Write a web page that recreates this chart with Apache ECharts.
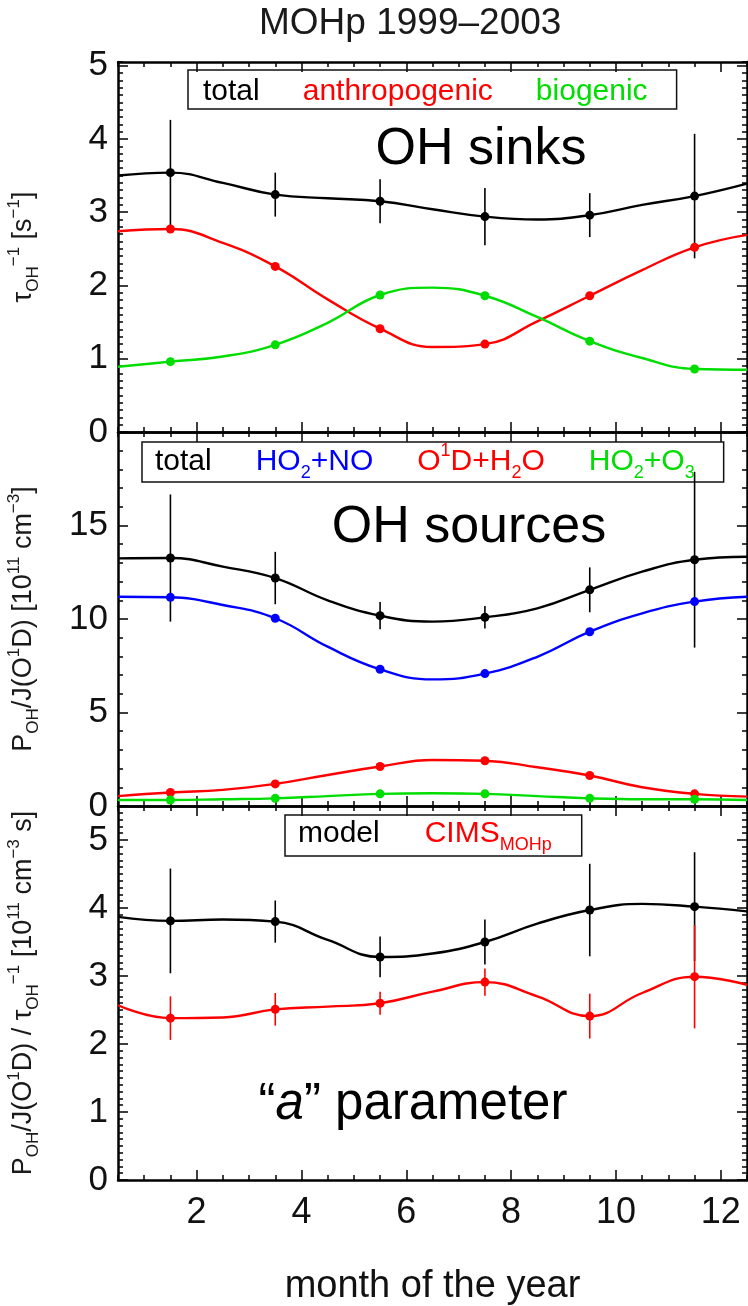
<!DOCTYPE html>
<html>
<head>
<meta charset="utf-8">
<title>MOHp 1999-2003</title>
<script src="https://cdn.jsdelivr.net/npm/echarts@6/dist/echarts.min.js"></script>
<style>
  html, body { margin: 0; padding: 0; background: #fff; }
  #chart { width: 748px; height: 1306px; }
</style>
</head>
<body>
<div id="chart"></div>
<script>
// bimonthly means, plotted at the middle of each two-month bin
var months = [1.5, 3.5, 5.5, 7.5, 9.5, 11.5];
var monthTicks = [2, 4, 6, 8, 10, 12];
var fitMonths = [0.5, 2.5, 4.5, 6.5, 8.5, 10.5, 12.5];

// OH sinks, tau^-1 [s^-1]
var sinkTotal = [3.54, 3.24, 3.15, 2.94, 2.96, 3.22];
var sinkTotalErr = [0.72, 0.30, 0.30, 0.39, 0.30, 0.85];
var sinkAnthro = [2.77, 2.26, 1.41, 1.20, 1.86, 2.52];
var sinkBio = [0.96, 1.19, 1.87, 1.86, 1.24, 0.86];
var sinkTotalFit = [3.50, 3.40, 3.19, 3.04, 2.90, 3.10, 3.39];
var sinkAnthroFit = [2.74, 2.58, 1.81, 1.16, 1.51, 2.21, 2.69];
var sinkBioFit = [0.89, 1.03, 1.49, 1.97, 1.57, 1.01, 0.85];

// OH sources, P_OH / J(O1D) [1e11 cm^-3]
var srcTotal = [13.26, 12.19, 10.18, 10.09, 11.56, 13.17];
var srcTotalErr = [3.4, 1.4, 0.73, 0.6, 1.2, 4.7];
var srcHO2NO = [11.16, 10.04, 7.31, 7.08, 9.32, 10.93];
var srcO1DH2O = [0.72, 1.18, 2.11, 2.42, 1.63, 0.65];
var srcHO2O3 = [0.32, 0.41, 0.65, 0.65, 0.41, 0.36];
var srcTotalFit = [13.24, 12.8, 11.0, 9.86, 10.57, 12.53, 13.33];
var srcHO2NOFit = [11.19, 10.75, 8.52, 6.77, 7.98, 10.3, 11.19];
var srcO1DH2OFit = [0.53, 0.86, 1.66, 2.46, 2.07, 1.0, 0.5];
var srcHO2O3Fit = [0.32, 0.36, 0.53, 0.68, 0.53, 0.36, 0.32];

// "a" parameter
var aModel = [3.81, 3.80, 3.28, 3.50, 3.97, 4.02];
var aModelErr = [0.77, 0.31, 0.30, 0.33, 0.68, 0.80];
var aCims = [2.38, 2.51, 2.60, 2.91, 2.41, 2.99];
var aCimsErr = [0.32, 0.24, 0.17, 0.20, 0.33, 0.76];
var aModelFit = [3.87, 3.83, 3.53, 3.33, 3.77, 4.06, 3.95];
var aCimsFit = [2.57, 2.39, 2.55, 2.77, 2.70, 2.75, 2.87];

var sinkTicks = [0, 1, 2, 3, 4, 5];
var srcTicks = [0, 5, 10, 15, 20];
var srcLabels = [0, 5, 10, 15];
var aTicks = [0, 1, 2, 3, 4, 5];

var FONT = "'Liberation Sans', Arial, sans-serif";
var RED = '#ff0000', GREEN = '#00dd00', BLUE = '#0000ff', BLACK = '#000000';

// measured points carry a marker, curve readings only shape the line
function curveData(values, fit) {
  var pts = months.map(function (m, i) { return { value: [m, values[i]] }; });
  fitMonths.forEach(function (m, i) {
    pts.push({ value: [m, fit[i]], symbol: 'none' });
  });
  pts.sort(function (a, b) { return a.value[0] - b.value[0]; });
  return pts;
}

function curve(name, values, fit, color, g) {
  return {
    name: name, type: 'line', xAxisIndex: g * 4, yAxisIndex: g * 4,
    data: curveData(values, fit), smooth: 0.45, clip: true,
    symbol: 'circle', symbolSize: 9, showSymbol: true,
    lineStyle: { color: color, width: 2.4 }, itemStyle: { color: color },
    emphasis: { disabled: true }, z: 3
  };
}

function errBars(name, values, errs, color, g) {
  return {
    name: name, type: 'custom', xAxisIndex: g * 4, yAxisIndex: g * 4,
    data: months.map(function (m, i) { return [m, values[i] - errs[i], values[i] + errs[i]]; }),
    encode: { x: 0, y: [1, 2] },
    itemStyle: { color: color }, z: 2,
    renderItem: function (params, api) {
      var p1 = api.coord([api.value(0), api.value(1)]);
      var p2 = api.coord([api.value(0), api.value(2)]);
      return {
        type: 'line',
        shape: { x1: p1[0], y1: p1[1], x2: p2[0], y2: p2[1] },
        style: { stroke: color, lineWidth: 1.6 }
      };
    }
  };
}

var lineStyle = { color: '#000', width: 2.5 };
var tickStyle = { color: '#000', width: 1.5 };

function xAxes(g, withLabels) {
  var list = [];
  ['bottom', 'top'].forEach(function (pos) {
    list.push({
      type: 'value', gridIndex: g, position: pos, min: 0.5, max: 12.5,
      splitLine: { show: false },
      axisLine: { onZero: false, lineStyle: lineStyle },
      axisTick: { inside: true, length: 10, customValues: monthTicks, lineStyle: tickStyle },
      axisLabel: (withLabels && pos === 'bottom') ? {
        customValues: monthTicks, fontSize: 36, fontFamily: FONT, color: '#111', margin: 15
      } : { show: false },
      name: (withLabels && pos === 'bottom') ? 'month of the year' : '',
      nameLocation: 'middle', nameGap: 88,
      nameTextStyle: { fontSize: 38, fontFamily: FONT, color: '#111' }
    });
    list.push({
      type: 'value', gridIndex: g, position: pos, min: 0.5, max: 12.5, interval: 0.5,
      splitLine: { show: false },
      axisLine: { show: false, onZero: false },
      axisTick: { inside: true, length: 5, lineStyle: tickStyle },
      axisLabel: { show: false }
    });
  });
  return list;
}

var nameRich = {
  m: { fontSize: 27, fontFamily: FONT, lineHeight: 36, color: '#1a1a1a' },
  sb: { fontSize: 17, fontFamily: FONT, lineHeight: 14, verticalAlign: 'bottom', color: '#1a1a1a' },
  sp: { fontSize: 17, fontFamily: FONT, lineHeight: 14, verticalAlign: 'top', color: '#1a1a1a' }
};

function yAxes(g, max, ticks, labels, minorStep, name) {
  var list = [];
  ['left', 'right'].forEach(function (pos) {
    list.push({
      type: 'value', gridIndex: g, position: pos, min: 0, max: max,
      splitLine: { show: false },
      axisLine: { onZero: false, lineStyle: lineStyle },
      axisTick: { inside: true, length: 10, customValues: ticks, lineStyle: tickStyle },
      axisLabel: pos === 'left' ? {
        customValues: labels, fontSize: 35, fontFamily: FONT, color: '#111', margin: 10
      } : { show: false },
      name: pos === 'left' ? name : '',
      nameLocation: 'middle', nameRotate: 90, nameGap: 76,
      nameTextStyle: { rich: nameRich }
    });
    list.push({
      type: 'value', gridIndex: g, position: pos, min: 0, max: max, interval: minorStep,
      splitLine: { show: false },
      axisLine: { show: false, onZero: false },
      axisTick: { inside: true, length: 5, lineStyle: tickStyle },
      axisLabel: { show: false }
    });
  });
  return list;
}

var legendRich = {
  m: { fontSize: 30, fontFamily: FONT, lineHeight: 40 },
  s: { fontSize: 18, fontFamily: FONT, lineHeight: 16, verticalAlign: 'bottom' },
  p: { fontSize: 18, fontFamily: FONT, lineHeight: 16, verticalAlign: 'top' }
};
var legendLabels = {
  'HO2+NO': '{m|HO}{s|2}{m|+NO}',
  'O1D+H2O': '{m|O}{p|1}{m|D+H}{s|2}{m|O}',
  'HO2+O3': '{m|HO}{s|2}{m|+O}{s|3}',
  'CIMS MOHp': '{m|CIMS}{s|MOHp}'
};

function legend(left, top, gap, padding, items) {
  return {
    left: left, top: top, orient: 'horizontal', selectedMode: false,
    icon: 'none', itemWidth: 0, itemHeight: 0, itemGap: gap,
    padding: padding,
    borderColor: '#111', borderWidth: 1.5,
    textStyle: { fontSize: 30, fontFamily: FONT, rich: legendRich },
    formatter: function (n) { return legendLabels[n] || '{m|' + n + '}'; },
    data: items.map(function (it) { return { name: it[0], textStyle: { color: it[1] } }; })
  };
}

var chart = echarts.init(document.getElementById('chart'), null, { renderer: 'canvas' });

chart.setOption({
  animation: false,
  backgroundColor: '#fff',
  title: {
    text: 'MOHp 1999\u20132003', left: 259, top: 5, padding: 0,
    textStyle: { fontSize: 37, fontWeight: 'normal', fontFamily: FONT, color: '#1a1a1a' }
  },
  grid: [
    { left: 118, right: 1, top: 62, height: 370, outerBoundsMode: 'none' },
    { left: 118, right: 1, top: 432, height: 374, outerBoundsMode: 'none' },
    { left: 118, right: 1, top: 806, height: 374, outerBoundsMode: 'none' }
  ],
  xAxis: [].concat(xAxes(0, false), xAxes(1, false), xAxes(2, true)),
  yAxis: [].concat(
    yAxes(0, 5.05, sinkTicks, sinkTicks, 0.1,
      '{m|\u03c4}{sb|OH}{sp|\u22121}{m| [s}{sp|\u22121}{m|]}'),
    yAxes(1, 20, srcTicks, srcLabels, 1,
      '{m|P}{sb|OH}{m|/J(O}{sp|1}{m|D) [10}{sp|11}{m| cm}{sp|\u22123}{m|]}'),
    yAxes(2, 5.5, aTicks, aTicks, 0.1,
      '{m|P}{sb|OH}{m|/J(O}{sp|1}{m|D) / \u03c4}{sb|OH}{sp|\u22121}{m| [10}{sp|11}{m| cm}{sp|\u22123}{m| s]}')
  ),
  legend: [
    legend(188, 70, 38, [7, 29, 2, 10], [['total', BLACK], ['anthropogenic', RED], ['biogenic', GREEN]]),
    legend(142, 442, 39, [0, 29, 0, 8], [['total', BLACK], ['HO2+NO', BLUE], ['O1D+H2O', RED], ['HO2+O3', GREEN]]),
    legend(285, 815, 40, [4, 30, 2, 8], [['model', BLACK], ['CIMS MOHp', RED]])
  ],
  graphic: [
    { type: 'text', x: 481, y: 150, silent: true,
      style: { text: 'OH sinks', fontSize: 52, fontFamily: FONT, fill: '#000',
        align: 'center', verticalAlign: 'middle', textAlign: 'center', textVerticalAlign: 'middle' } },
    { type: 'text', x: 469, y: 528, silent: true,
      style: { text: 'OH sources', fontSize: 52, fontFamily: FONT, fill: '#000',
        align: 'center', verticalAlign: 'middle', textAlign: 'center', textVerticalAlign: 'middle' } },
    { type: 'text', x: 413, y: 1105, silent: true,
      style: { text: '\u201c{i|a}\u201d parameter', fontSize: 51, fontFamily: FONT, fill: '#000',
        rich: { i: { fontSize: 51, fontFamily: FONT, fontStyle: 'italic', fill: '#000' } },
        align: 'center', verticalAlign: 'middle', textAlign: 'center', textVerticalAlign: 'middle' } }
  ],
  series: [
    errBars('sink total error', sinkTotal, sinkTotalErr, BLACK, 0),
    curve('anthropogenic', sinkAnthro, sinkAnthroFit, RED, 0),
    curve('biogenic', sinkBio, sinkBioFit, GREEN, 0),
    curve('total', sinkTotal, sinkTotalFit, BLACK, 0),

    errBars('source total error', srcTotal, srcTotalErr, BLACK, 1),
    curve('HO2+NO', srcHO2NO, srcHO2NOFit, BLUE, 1),
    curve('O1D+H2O', srcO1DH2O, srcO1DH2OFit, RED, 1),
    curve('HO2+O3', srcHO2O3, srcHO2O3Fit, GREEN, 1),
    curve('total', srcTotal, srcTotalFit, BLACK, 1),

    errBars('model error', aModel, aModelErr, BLACK, 2),
    errBars('CIMS error', aCims, aCimsErr, RED, 2),
    curve('CIMS MOHp', aCims, aCimsFit, RED, 2),
    curve('model', aModel, aModelFit, BLACK, 2)
  ]
});
</script>
</body>
</html>
